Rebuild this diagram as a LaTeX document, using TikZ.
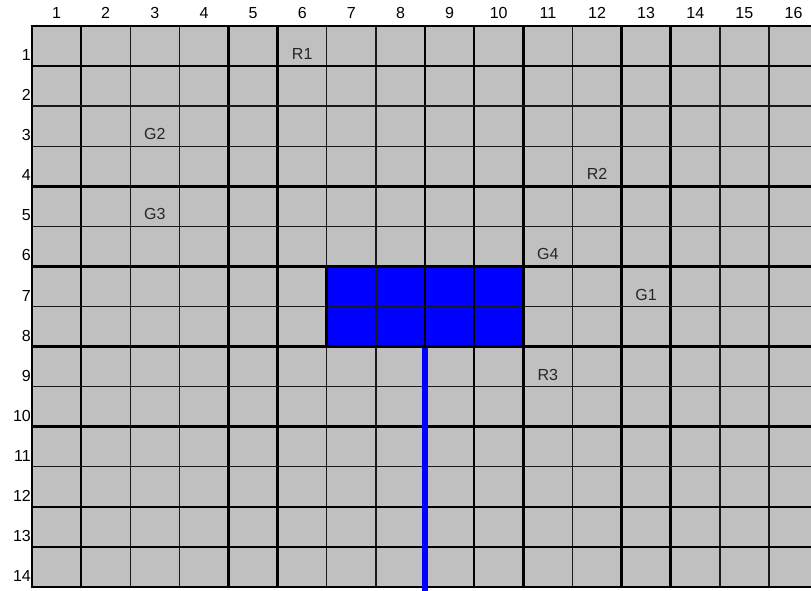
\documentclass[tikz,border=0pt]{standalone}
\usepackage{fontspec}
\setmainfont{Liberation Sans}
\definecolor{cellgray}{RGB}{192,192,192}
\definecolor{pureblue}{RGB}{0,0,255}
\begin{document}
\begin{tikzpicture}[x=1pt,y=-1pt,
  lbl/.style={inner sep=0pt,font=\fontsize{16}{19}\selectfont,text=black!85},
  hdr/.style={inner sep=0pt,font=\fontsize{16}{19}\selectfont},
  thickln/.style={black,line width=2.6pt},
  thinln/.style={black!90,line width=1.4pt}]
\def\cw{49.13}
\def\rh{40.07}
\def\xo{32}
\def\yo{26}
\useasboundingbox (0,0) rectangle (811,590);
\fill[white] (0,0) rectangle (811,590);
\begin{scope}
\clip (0,0) rectangle (811,590);
% gray field
\fill[cellgray] (\xo,\yo) rectangle (\xo+16*\cw,\yo+14*\rh);
% blue block
\node[fill=pureblue,inner sep=0pt,minimum width=4*\cw pt,minimum height=2*\rh pt,anchor=north west] (blk) at (\xo+6*\cw,\yo+6*\rh) {};
% vertical lines
\foreach \i in {2,3,6,7,11,14,15}
  \draw[thinln] (\xo+\i*\cw,\yo) -- (\xo+\i*\cw,\yo+14*\rh);
\foreach \i in {0,1,4,5,8,9,10,12,13}
  \draw[thickln] (\xo+\i*\cw,\yo) -- (\xo+\i*\cw,\yo+14*\rh);
% horizontal lines
\foreach \j in {2,3,5,7,9,11}
  \draw[thinln] (\xo,\yo+\j*\rh) -- (\xo+16*\cw,\yo+\j*\rh);
\foreach \j in {0,1,4,6,8,10,12,13,14}
  \draw[thickln] (\xo-1.3,\yo+\j*\rh) -- (\xo+16*\cw,\yo+\j*\rh);
% block border
\draw[thickln] (blk.north west) rectangle (blk.south east);
% blue vertical bar
\coordinate (bot) at (0,592);
\draw[line width=6pt,pureblue] ([yshift=-1.3pt]blk.south) -- (blk.south |- bot);
\end{scope}
% column headers
\foreach \i in {1,...,16}
  \node[hdr] (c\i) at (\xo+\i*\cw-0.5*\cw,13) {\i};
% row labels
\foreach \j in {1,...,14}
  \node[hdr,anchor=east] (r\j) at (\xo-1,\yo+\j*\rh-11) {\j};
% cell labels
\node[lbl] (R1) at (\xo+5.5*\cw,\yo+1*\rh-12) {R1};
\node[lbl] (G2) at (\xo+2.5*\cw,\yo+3*\rh-12) {G2};
\node[lbl] (R2) at (\xo+11.5*\cw,\yo+4*\rh-12) {R2};
\node[lbl] (G3) at (\xo+2.5*\cw,\yo+5*\rh-12) {G3};
\node[lbl] (G4) at (\xo+10.5*\cw,\yo+6*\rh-12) {G4};
\node[lbl] (G1) at (\xo+12.5*\cw,\yo+7*\rh-12) {G1};
\node[lbl] (R3) at (\xo+10.5*\cw,\yo+9*\rh-12) {R3};
\end{tikzpicture}
\end{document}
